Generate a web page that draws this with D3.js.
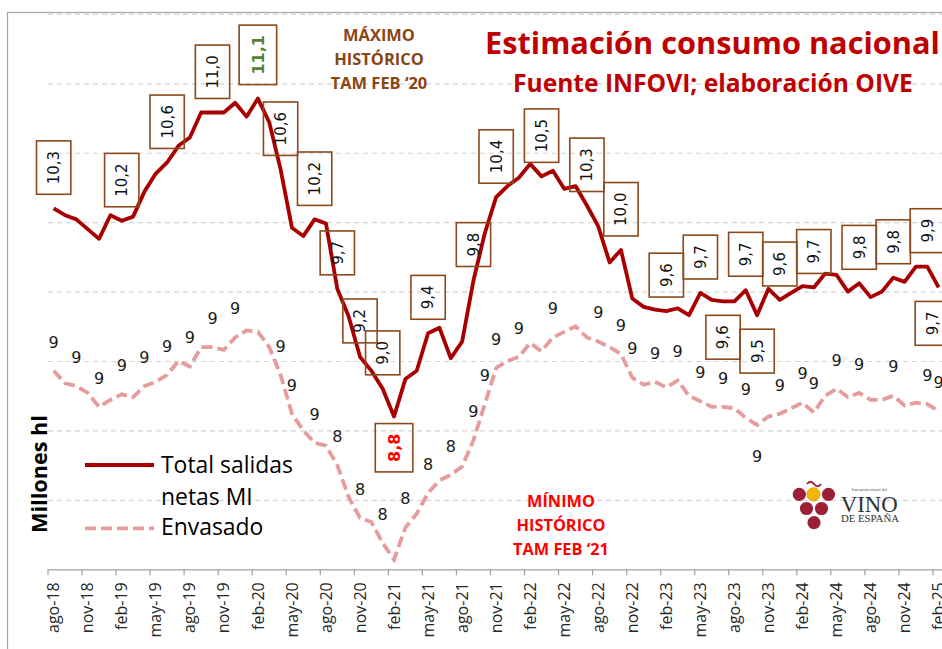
<!DOCTYPE html>
<html>
<head>
<meta charset="utf-8">
<script src="https://cdn.jsdelivr.net/npm/d3@7"></script>
<style>
  html, body { margin: 0; padding: 0; background: #fff; }
  svg { display: block; }
</style>
</head>
<body>
<script>
// ---------- data ----------
const months = [
  "ago-18","sep-18","oct-18","nov-18","dic-18","ene-19","feb-19","mar-19","abr-19","may-19","jun-19","jul-19",
  "ago-19","sep-19","oct-19","nov-19","dic-19","ene-20","feb-20","mar-20","abr-20","may-20","jun-20","jul-20",
  "ago-20","sep-20","oct-20","nov-20","dic-20","ene-21","feb-21","mar-21","abr-21","may-21","jun-21","jul-21",
  "ago-21","sep-21","oct-21","nov-21","dic-21","ene-22","feb-22","mar-22","abr-22","may-22","jun-22","jul-22",
  "ago-22","sep-22","oct-22","nov-22","dic-22","ene-23","feb-23","mar-23","abr-23","may-23","jun-23","jul-23",
  "ago-23","sep-23","oct-23","nov-23","dic-23","ene-24","feb-24","mar-24","abr-24","may-24","jun-24","jul-24",
  "ago-24","sep-24","oct-24","nov-24","dic-24","ene-25","feb-25"
];

// Total salidas netas MI (millones hl, TAM)
const salidas = [
  10.30, 10.25, 10.22, 10.15, 10.08, 10.25, 10.21, 10.24, 10.42, 10.55, 10.63, 10.75,
  10.81, 10.99, 10.99, 10.99, 11.06, 10.96, 11.09, 10.92, 10.58, 10.16, 10.10, 10.22,
  10.19,  9.72,  9.52,  9.23,  9.13,  9.00,  8.80,  9.07,  9.13,  9.40,  9.44,  9.22,
   9.34,  9.78, 10.12, 10.38, 10.46, 10.52, 10.62, 10.53, 10.57, 10.44, 10.46, 10.32,
  10.17,  9.91, 10.00,  9.65,  9.59,  9.57,  9.56,  9.58,  9.53,  9.69,  9.64,  9.63,
   9.63,  9.71,  9.53,  9.72,  9.64,  9.69,  9.74,  9.73,  9.83,  9.82,  9.70,  9.76,
   9.66,  9.70,  9.80,  9.77,  9.88,  9.88,  9.73
];

// Envasado (millones hl, TAM)
const envasado = [
  9.13, 9.04, 9.02, 8.97, 8.87, 8.92, 8.96, 8.94, 9.02, 9.05, 9.10, 9.20,
  9.16, 9.30, 9.30, 9.28, 9.37, 9.42, 9.41, 9.30, 9.10, 8.82, 8.70, 8.61,
  8.59, 8.45, 8.22, 8.07, 8.04, 7.89, 7.77, 8.00, 8.10, 8.25, 8.34, 8.38,
  8.44, 8.63, 8.89, 9.15, 9.20, 9.23, 9.33, 9.27, 9.37, 9.41, 9.45, 9.37,
  9.34, 9.30, 9.25, 9.08, 9.03, 9.05, 9.01, 9.06, 8.95, 8.91, 8.87, 8.87,
  8.86, 8.79, 8.74, 8.80, 8.82, 8.86, 8.90, 8.83, 8.95, 9.00, 8.94, 8.97,
  8.92, 8.92, 8.95, 8.88, 8.90, 8.89, 8.84
];

// which points carry a data label
const salidasLabelIdx = [0, 6, 10, 14, 18, 20, 23, 25, 27, 29, 30, 33, 37, 39, 43, 47, 50,
                         54, 57, 59, 61, 62, 64, 67, 71, 74, 77, 78];
const salidasLabelBelow = [30, 59, 62, 78];
const envasadoLabelIdx = [0, 2, 4, 6, 8, 10, 12, 14, 16, 20, 21, 23, 25, 27, 29, 31, 33, 35,
                          37, 38, 39, 41, 44, 48, 50, 51, 53, 55, 57, 59, 61, 62, 64, 66, 67,
                          69, 71, 74, 77, 78];
const envasadoLabelBelow = [62];

const gridValues = [8.2, 8.7, 9.2, 9.7, 10.2, 10.7, 11.2, 11.7];
const yDomain = [7.7, 11.7];

// ---------- look ----------
const W = 942, H = 649;
const LEFT = 48, RIGHT = 944.3, TOP = 13.9, BOTTOM = 569.3;
const RED = "#a80000";
const PINK = "#e69c9c";
const BOX = "#8c4a1c";
const TITLE_RED = "#c00000";
const SANS = "'Open Sans', 'Liberation Sans', sans-serif";
const NUM = "'DejaVu Sans', sans-serif";

const svg = d3.select("body").append("svg")
  .attr("width", W).attr("height", H)
  .attr("viewBox", `0 0 ${W} ${H}`);

svg.append("rect").attr("width", W).attr("height", H).attr("fill", "#fff");

// chart border (only top / left visible)
svg.append("rect")
  .attr("x", 7.5).attr("y", 12.5)
  .attr("width", 1000).attr("height", 700)
  .attr("fill", "none").attr("stroke", "#a6a6a6").attr("stroke-width", 1.2);

const x = d3.scaleBand().domain(months).range([LEFT, RIGHT]).padding(0);
const bw = x.bandwidth();
const cx = m => x(m) + bw / 2;
const y = d3.scaleLinear().domain(yDomain).range([BOTTOM, TOP]);

// gridlines
const grid = svg.append("g")
  .attr("transform", `translate(${LEFT},0)`)
  .call(d3.axisLeft(y).tickValues(gridValues).tickSize(-(RIGHT - LEFT)).tickFormat(""));
grid.select(".domain").remove();
grid.selectAll("line")
  .attr("stroke", "#d4d4d4").attr("stroke-width", 1.2).attr("stroke-dasharray", "5,4");

// x axis: ticks between categories, labels on every 3rd month
const xAxis = svg.append("g")
  .attr("transform", `translate(0,${BOTTOM})`)
  .call(d3.axisBottom(x)
    .tickValues(months.filter((d, i) => i % 3 === 0))
    .tickSize(6).tickSizeOuter(0));
xAxis.select(".domain").attr("stroke", "#a0a0a0").attr("stroke-width", 1.3);
xAxis.selectAll(".tick line")
  .attr("x1", -bw / 2).attr("x2", -bw / 2)
  .attr("stroke", "#a0a0a0").attr("stroke-width", 1.2);
xAxis.selectAll(".tick text")
  .attr("transform", "rotate(-90)")
  .attr("x", -13).attr("y", 0).attr("dy", "0.35em")
  .attr("text-anchor", "end")
  .attr("font-family", SANS).attr("font-size", 16)
  .attr("fill", "#262626");

// lines
const line = d3.line().x((d, i) => cx(months[i])).y(d => y(d));

svg.append("path")
  .datum(envasado)
  .attr("d", line)
  .attr("fill", "none").attr("stroke", PINK)
  .attr("stroke-width", 3.8).attr("stroke-dasharray", "11,5");

svg.append("path")
  .datum(salidas)
  .attr("d", line)
  .attr("fill", "none").attr("stroke", RED)
  .attr("stroke-width", 3.8).attr("stroke-linejoin", "round");

// envasado labels
const fmt0 = d3.format(".0f");
svg.append("g").selectAll("text")
  .data(envasadoLabelIdx).enter()
  .append("text")
  .attr("x", i => cx(months[i]))
  .attr("y", i => y(envasado[i]) + (envasadoLabelBelow.includes(i) ? 31 : -29))
  .attr("dy", "0.36em")
  .attr("text-anchor", "middle")
  .attr("font-family", NUM).attr("font-size", 16)
  .attr("fill", "#1a1a1a")
  .text(i => fmt0(envasado[i]));

// salidas labels (boxed, rotated)
const fmt1 = d3.format(".1f");
const labG = svg.append("g");
salidasLabelIdx.forEach(i => {
  const v = salidas[i];
  const special = i === 18 ? "#548235" : i === 30 ? "#ff0000" : null;
  const fs = special ? 16 : 15;
  const g = labG.append("g");
  const t = g.append("text")
    .text(fmt1(v).replace(".", ","))
    .attr("font-family", NUM).attr("font-size", fs)
    .attr("font-weight", special ? "bold" : "normal")
    .attr("fill", special || "#111")
    .attr("text-anchor", "middle").attr("dy", "0.36em");
  const L = t.node().getComputedTextLength();
  const bh = L + 20, bwid = special ? 37.5 : 34.3;
  const below = salidasLabelBelow.includes(i);
  const gap = i === 30 ? 7 : 14;
  const px = Math.min(cx(months[i]), RIGHT - 12);
  const py = y(v);
  const cy = below ? py + gap + bh / 2 : py - gap - bh / 2;
  g.insert("rect", "text")
    .attr("x", px - bwid / 2).attr("y", cy - bh / 2)
    .attr("width", bwid).attr("height", bh)
    .attr("fill", "none").attr("stroke", BOX).attr("stroke-width", 1.6);
  t.attr("transform", `translate(${px},${cy}) rotate(-90)`);
});

// ---------- texts ----------
function fit(sel, width) {
  const L = sel.node().getComputedTextLength();
  const fs = parseFloat(sel.attr("font-size"));
  const nfs = fs * width / L;
  sel.attr("font-size", nfs);
  return nfs;
}

const title = svg.append("text")
  .attr("x", 485).attr("y", 53.5)
  .attr("font-family", SANS).attr("font-weight", "bold").attr("font-size", 30)
  .attr("fill", TITLE_RED)
  .text("Estimación consumo nacional");
fit(title, 455);

const sub = svg.append("text")
  .attr("x", 513).attr("y", 91.5)
  .attr("font-family", SANS).attr("font-weight", "bold").attr("font-size", 24)
  .attr("fill", TITLE_RED)
  .text("Fuente INFOVI; elaboración OIVE");
fit(sub, 400);

function block(lines, cxp, ys, color, widest, width) {
  const ts = lines.map((s, k) => svg.append("text")
    .attr("x", cxp).attr("y", ys[k])
    .attr("text-anchor", "middle")
    .attr("font-family", SANS).attr("font-weight", "bold").attr("font-size", 16)
    .attr("fill", color).text(s));
  const fs = fit(ts[widest], width);
  ts.forEach(t => t.attr("font-size", fs));
}
block(["MÁXIMO", "HISTÓRICO", "TAM FEB ‘20"], 379, [40.7, 65, 89.3], "#8a4513", 2, 96.6);
block(["MÍNIMO", "HISTÓRICO", "TAM FEB ‘21"], 561, [506.7, 531, 555], "#ff0000", 2, 96);

// y title
const yt = svg.append("text")
  .attr("transform", "translate(46.7,474) rotate(-90)")
  .attr("text-anchor", "middle")
  .attr("font-family", SANS).attr("font-weight", "bold").attr("font-size", 21)
  .attr("fill", "#000")
  .text("Millones hl");
fit(yt, 118);

// legend
svg.append("line")
  .attr("x1", 85).attr("x2", 154).attr("y1", 465).attr("y2", 465)
  .attr("stroke", RED).attr("stroke-width", 3.8);
svg.append("line")
  .attr("x1", 85).attr("x2", 154).attr("y1", 528.3).attr("y2", 528.3)
  .attr("stroke", PINK).attr("stroke-width", 3.8).attr("stroke-dasharray", "11,5");
const legTexts = [["Total salidas", 472.7], ["netas MI", 505], ["Envasado", 535]]
  .map(([s, yy]) => svg.append("text")
    .attr("x", 161).attr("y", yy)
    .attr("font-family", SANS).attr("font-size", 23)
    .attr("fill", "#000").text(s));
const lfs = fit(legTexts[0], 132);
legTexts.forEach(t => t.attr("font-size", lfs));

// logo
const logo = svg.append("g");
const GRAPE = "#9b1f36";
[[799.3, 494.3, GRAPE], [813.5, 494.3, "#f2b705"], [828.5, 494.3, GRAPE],
 [806.5, 508.5, GRAPE], [821.5, 508.5, GRAPE], [814, 522.7, GRAPE]]
  .forEach(([a, b, c]) => logo.append("circle")
    .attr("cx", a).attr("cy", b).attr("r", 6.6).attr("fill", c)
    .attr("stroke", c === GRAPE ? "none" : "#d89a00").attr("stroke-width", 0.8));
logo.append("path")
  .attr("d", "M807,484 q3.5,-4.5 7,0 t7,0")
  .attr("fill", "none").attr("stroke", GRAPE).attr("stroke-width", 2);
logo.append("text")
  .attr("x", 869.5).attr("y", 491).attr("text-anchor", "middle")
  .attr("font-family", "'Liberation Serif', serif").attr("font-size", 4.5)
  .attr("fill", "#555").text("Interprofesional del");
const vino = logo.append("text")
  .attr("x", 840.7).attr("y", 511.7)
  .attr("font-family", "'Liberation Serif', serif").attr("font-size", 20)
  .attr("fill", "#333").text("VINO");
fit(vino, 57);
const esp = logo.append("text")
  .attr("x", 841).attr("y", 522.3)
  .attr("font-family", "'Liberation Serif', serif").attr("font-size", 9)
  .attr("fill", "#333").text("DE ESPAÑA");
fit(esp, 58);
</script>
</body>
</html>
